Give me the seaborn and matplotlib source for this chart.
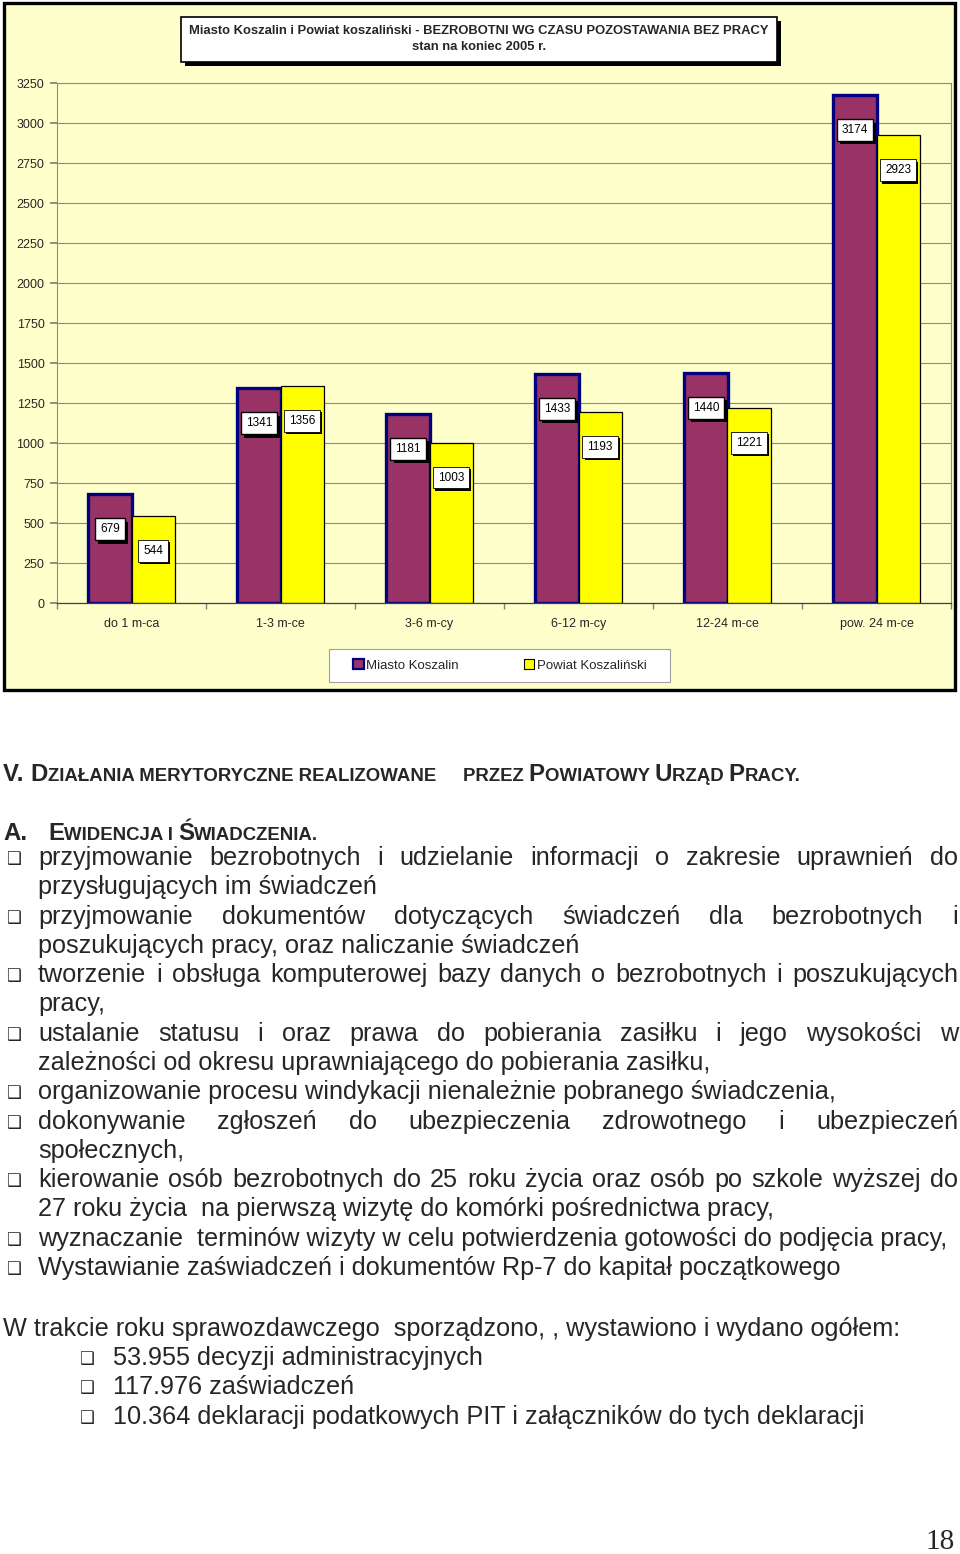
import numpy as np
import pandas as pd
import seaborn as sns
import matplotlib
matplotlib.use("Agg")
import matplotlib.pyplot as plt
from matplotlib.patches import Rectangle, Patch
from matplotlib.font_manager import FontProperties, fontManager
import matplotlib.patheffects as pe

# ---------------- data ----------------
categories = ["do 1 m-ca", "1-3 m-ce", "3-6 m-cy", "6-12 m-cy", "12-24 m-ce", "pow. 24 m-ce"]
series_names = ["Miasto Koszalin", "Powiat Koszaliński"]
miasto = [679, 1341, 1181, 1433, 1440, 3174]
powiat = [544, 1356, 1003, 1193, 1221, 2923]
y_ticks = list(range(0, 3251, 250))
chart_title_1 = "Miasto Koszalin i Powiat koszaliński - BEZROBOTNI WG CZASU POZOSTAWANIA BEZ PRACY"
chart_title_2 = "stan na koniec 2005 r."

heading_v_1 = [("V. ", "B"), ("D", "B"), ("ZIAŁANIA MERYTORYCZNE REALIZOWANE", "s")]
heading_v_2 = [("PRZEZ ", "s"), ("P", "B"), ("OWIATOWY ", "s"), ("U", "B"), ("RZĄD ", "s"), ("P", "B"), ("RACY.", "s")]
heading_a_1 = [("A.", "B")]
heading_a_2 = [("E", "B"), ("WIDENCJA I ", "s"), ("Ś", "B"), ("WIADCZENIA.", "s")]

body_lines = [
    ("przyjmowanie bezrobotnych i udzielanie informacji o zakresie uprawnień do", True, True),
    ("przysługujących im świadczeń", False, False),
    ("przyjmowanie dokumentów dotyczących świadczeń dla bezrobotnych i", True, True),
    ("poszukujących pracy, oraz naliczanie świadczeń", False, False),
    ("tworzenie i obsługa komputerowej bazy danych o bezrobotnych i poszukujących", True, True),
    ("pracy,", False, False),
    ("ustalanie statusu i oraz prawa do pobierania zasiłku i jego wysokości w", True, True),
    ("zależności od okresu uprawniającego do pobierania zasiłku,", False, False),
    ("organizowanie procesu windykacji nienależnie pobranego świadczenia,", False, True),
    ("dokonywanie zgłoszeń do ubezpieczenia zdrowotnego i ubezpieczeń", True, True),
    ("społecznych,", False, False),
    ("kierowanie osób bezrobotnych do 25 roku życia oraz osób po szkole wyższej do", True, True),
    ("27 roku życia  na pierwszą wizytę do komórki pośrednictwa pracy,", False, False),
    ("wyznaczanie  terminów wizyty w celu potwierdzenia gotowości do podjęcia pracy,", False, True),
    ("Wystawianie zaświadczeń i dokumentów Rp-7 do kapitał początkowego", False, True),
]
summary_intro = "W trakcie roku sprawozdawczego  sporządzono, , wystawiono i wydano ogółem:"
summary_items = [
    "53.955 decyzji administracyjnych",
    "117.976 zaświadczeń",
    "10.364 deklaracji podatkowych PIT i załączników do tych deklaracji",
]
page_number = "18"

# ---------------- style ----------------
PURPLE = "#993366"
YELLOW = "#FFFF00"
NAVY = "#000080"
CHART_BG = "#FFFFCC"
GRID = "#8C8C80"

sns.set_theme(style="white")
plt.rcParams["font.family"] = ["Liberation Sans", "DejaVu Sans"]

names = {f.name for f in fontManager.ttflist}
NARROW = "Liberation Sans"
for cand in ["Liberation Sans Narrow", "Arial Narrow", "Nimbus Sans Narrow", "DejaVu Sans Condensed"]:
    if cand in names:
        NARROW = cand
        break

W, H = 960, 1554
fig = plt.figure(figsize=(W / 100, H / 100), dpi=100)
fig.patch.set_facecolor("white")
renderer = fig.canvas.get_renderer()


def fx(x):
    return x / W


def fy(y):
    return 1 - y / H


def tw(s, size, family="Liberation Sans", weight="normal"):
    fp = FontProperties(family=[family, "DejaVu Sans"], size=size, weight=weight)
    w1 = renderer.get_text_width_height_descent("|" + s + "|", fp, ismath=False)[0]
    w0 = renderer.get_text_width_height_descent("||", fp, ismath=False)[0]
    return w1 - w0


# ---------------- chart frame ----------------
fig.add_artist(Rectangle((fx(4), fy(690)), (955 - 4) / W, (690 - 3) / H, transform=fig.transFigure,
                         fc=CHART_BG, ec="black", lw=2.4, zorder=0))

# title box with shadow
fig.add_artist(Rectangle((fx(185), fy(66)), (777 - 181) / W, 45 / H, transform=fig.transFigure,
                         fc="black", ec="black", lw=0, zorder=1))
fig.add_artist(Rectangle((fx(181), fy(62)), (777 - 181) / W, 45 / H, transform=fig.transFigure,
                         fc="white", ec="black", lw=1.2, zorder=2))
tfs = 9 * 586 / tw(chart_title_1, 9, NARROW, "bold")
fig.text(fx(479), fy(31), chart_title_1, ha="center", va="center", fontsize=tfs, weight="bold",
         family=[NARROW, "DejaVu Sans"], zorder=3)
fig.text(fx(479), fy(47), chart_title_2, ha="center", va="center", fontsize=tfs, weight="bold",
         family=[NARROW, "DejaVu Sans"], zorder=3)

# ---------------- bar chart ----------------
ax = fig.add_axes([fx(57), fy(603), (951 - 57) / W, (603 - 83) / H])
ax.set_facecolor("none")
ax.set_zorder(2)

df = pd.DataFrame({
    "okres": categories * 2,
    "seria": [s for s in series_names for _ in categories],
    "wartosc": miasto + powiat,
})
sns.barplot(data=df, x="okres", y="wartosc", hue="seria", order=categories, hue_order=series_names,
            palette=[PURPLE, YELLOW], saturation=1, width=0.58, gap=0, errorbar=None,
            legend=False, ax=ax)

for cont, ec, lw in zip(ax.containers, [NAVY, "black"], [2.4, 0.9]):
    for bar in cont:
        bar.set_edgecolor(ec)
        bar.set_linewidth(lw)

for cont, vals, heavy in zip(ax.containers, [miasto, powiat], [True, False]):
    for bar, v in zip(cont, vals):
        x = bar.get_x() + bar.get_width() / 2
        h = bar.get_height()
        t = ax.annotate(f"{v}", xy=(x, h), xytext=(0, -35), textcoords="offset pixels",
                        ha="center", va="center", fontsize=8.5, color="black",
                        bbox=dict(boxstyle="square,pad=0.42", fc="white", ec="black",
                                  lw=1.0 if heavy else 0.6), zorder=6)
        t.get_bbox_patch().set_path_effects([
            pe.SimplePatchShadow(offset=(2.4, -2.4) if heavy else (1.6, -1.6),
                                 shadow_rgbFace="black", alpha=1),
            pe.Normal()])

ax.set_xlim(-0.5, 5.5)
ax.set_ylim(0, 3250)
ax.set_yticks(y_ticks)
ax.set_yticklabels([str(v) for v in y_ticks])
ax.set_xticks(range(len(categories)))
ax.set_xticklabels(categories)
ax.set_xticks(np.arange(-0.5, len(categories), 1), minor=True)
ax.tick_params(axis="x", which="major", length=0, pad=10.5, labelsize=9, bottom=True)
ax.tick_params(axis="x", which="minor", length=4, color="#808080", direction="out", bottom=True)
ax.tick_params(axis="y", length=5, color="#808080", direction="out", labelsize=9, pad=4, left=True)
ax.set_xlabel("")
ax.set_ylabel("")
ax.set_axisbelow(True)
ax.grid(axis="y", color=GRID, lw=0.8)
ax.grid(axis="x", visible=False)
for side in ["left", "right", "top"]:
    ax.spines[side].set_color(GRID)
    ax.spines[side].set_linewidth(0.8)
ax.spines["bottom"].set_color("#404040")
ax.spines["bottom"].set_linewidth(0.9)

# legend
fig.add_artist(Rectangle((fx(329), fy(682)), (670 - 329) / W, 33 / H, transform=fig.transFigure,
                         fc="white", ec="#A0A0A0", lw=0.8, zorder=1))
handles = [Patch(fc=PURPLE, ec=NAVY, lw=1.6), Patch(fc=YELLOW, ec="black", lw=0.8)]
leg = fig.legend(handles, series_names, loc="center", bbox_to_anchor=(fx(500), fy(665.5)),
                 bbox_transform=fig.transFigure, ncol=2, fontsize=9.5, frameon=False,
                 handlelength=0.8, handleheight=0.8, handletextpad=0.2, columnspacing=4.9)
leg.set_zorder(3)

# ---------------- page text ----------------
def draw_runs(x, yb, runs, S, family, weight):
    for s, kind in runs:
        size = S if kind == "B" else 0.78 * S
        fig.text(fx(x), fy(yb), s, ha="left", va="baseline", fontsize=size, weight=weight,
                 family=[family, "DejaVu Sans"])
        x += tw(s, size, family, weight)
    return x


def runs_width(runs, S, family, weight):
    return sum(tw(s, S if k == "B" else 0.78 * S, family, weight) for s, k in runs)


HS = 10 * (440 - 3) / runs_width(heading_v_1, 10, NARROW, "bold")
draw_runs(3, 781, heading_v_1, HS, NARROW, "bold")
draw_runs(463, 781, heading_v_2, HS, NARROW, "bold")
draw_runs(3, 840, heading_a_1, HS, NARROW, "bold")
draw_runs(48, 840, heading_a_2, HS, NARROW, "bold")

BF = "Liberation Sans"
bfs = 10 * 800 / tw("organizowanie procesu windykacji nienależnie pobranego świadczenia,", 10, BF)
x_left, x_right = 38, 958
for k, (line, justify, bullet) in enumerate(body_lines):
    yb = 865 + 29.29 * k
    if bullet:
        fig.text(fx(6), fy(yb - 6), "❑", ha="left", va="center", fontsize=12, family="DejaVu Sans")
    if justify:
        words = line.split()
        widths = [tw(w_, bfs, BF) for w_ in words]
        gap = (x_right - x_left - sum(widths)) / (len(words) - 1)
        x = x_left
        for w_, wd in zip(words, widths):
            fig.text(fx(x), fy(yb), w_, ha="left", va="baseline", fontsize=bfs, family=BF)
            x += wd + gap
    else:
        fig.text(fx(x_left), fy(yb), line, ha="left", va="baseline", fontsize=bfs, family=BF)

sfs = 10 * (900 - 3) / tw(summary_intro, 10, NARROW)
fig.text(fx(3), fy(1336), summary_intro, ha="left", va="baseline", fontsize=sfs,
         family=[NARROW, "DejaVu Sans"])
for k, item in enumerate(summary_items):
    yb = 1365 + 29.3 * k
    fig.text(fx(79), fy(yb - 6), "❑", ha="left", va="center", fontsize=12, family="DejaVu Sans")
    fig.text(fx(113), fy(yb), item, ha="left", va="baseline", fontsize=sfs,
             family=[NARROW, "DejaVu Sans"])

fig.text(fx(955), fy(1549), page_number, ha="right", va="baseline", fontsize=21,
         family=["Liberation Serif", "DejaVu Serif"])

fig.savefig("out.png", dpi=100, facecolor="white")
